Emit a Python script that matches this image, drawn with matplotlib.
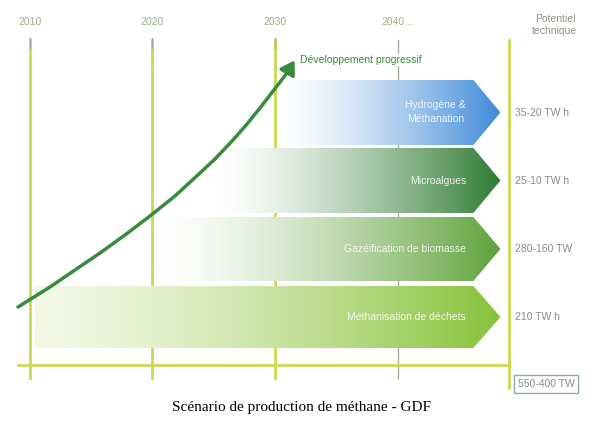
import numpy as np
import matplotlib.pyplot as plt
from matplotlib.patches import Polygon
from matplotlib.colors import LinearSegmentedColormap

# Années de la frise
annees = [2010, 2020, 2030, 2040]
labels_annees = ["2010", "2020", "2030", "2040..."]

# Filières : nom, année de départ, ligne (haut, bas en pixels), couleurs
filieres = ["Hydrogène &\nMéthanation", "Microalgues",
            "Gazéification de biomasse", "Méthanisation de déchets"]
debuts = [2030.2, 2025, 2020.5, 2010.4]
hauts = [80, 148, 217, 286]
bas = [145, 213, 281, 348]
couleurs_debut = ["#ffffff", "#ffffff", "#ffffff", "#f3f8e4"]
couleurs = ["#3f8bd8", "#2f7c33", "#5ea23a", "#86c23a"]
fin_rect = 2046.2
fin_pointe = 2048.4

# Potentiel technique
potentiels = ["35-20 TW h", "25-10 TW h", "280-160 TW", "210 TW h"]
total = "550-400 TW"

courbe_px = [18, 50, 100, 125, 150, 175, 200, 215, 233, 247, 260, 270, 277, 287]
courbe_y = [307, 287, 253, 235, 216, 196, 173, 159, 140, 124, 108, 95, 86, 73]
pointe_px, pointe_y = 296, 58

# conversion pixels -> année : 2010 à x=30, 12.25 px par an
px_an = 12.25
x0 = 2010 - 30 / px_an
x1 = 2010 + 573 / px_an
def an(px):
    return 2010 + (px - 30) / px_an

fig = plt.figure(figsize=(6.03, 4.21), dpi=100)
ax = fig.add_axes([0, 0, 1, 1])
ax.set_xlim(x0, x1)
ax.set_ylim(421, 0)
ax.axis("off")

jaune = "#cbd94f"
gris = "#a9ad9c"
x_droite = an(509)

# lignes verticales
for a in annees[:3]:
    ax.plot([a, a], [40, 378], color=jaune, lw=2, zorder=1)
    ax.plot([a, a], [38, 48], color=gris, lw=1, zorder=1)
ax.plot([2040, 2040], [40, 378], color=gris, lw=1, zorder=1)
ax.plot([x_droite, x_droite], [40, 388], color=jaune, lw=2, zorder=1)
# axe horizontal
ax.plot([an(18), x_droite], [365, 365], color=jaune, lw=2, zorder=1)

for a, l in zip(annees, labels_annees):
    ax.text(a, 22, l, ha="center", va="center", fontsize=7.5,
            color="#9fae86", family="Liberation Sans")
ax.text(an(555), 25, "Potentiel\ntechnique", ha="center", va="center",
        fontsize=7.5, color="#8e9486", family="Liberation Sans", linespacing=1.3)

# flèches en dégradé
for nom, d, h, b, c0, c in zip(filieres, debuts, hauts, bas, couleurs_debut, couleurs):
    m = (h + b) / 2
    poly = Polygon([[d, h], [fin_rect, h], [fin_pointe, m], [fin_rect, b], [d, b]],
                   closed=True, facecolor="none", edgecolor="none")
    ax.add_patch(poly)
    cmap = LinearSegmentedColormap.from_list("g", [c0, c])
    grad = np.linspace(0, 1, 256) ** 1.4
    im = ax.imshow(grad[None, :], cmap=cmap, aspect="auto",
                   extent=(d, fin_pointe, b, h), zorder=2, interpolation="bilinear")
    im.set_clip_path(poly)
    ax.text(an(466), m, nom, ha="right", va="center", fontsize=7.5, color="white",
            alpha=0.85, family="Liberation Sans", multialignment="center",
            linespacing=1.5, zorder=3)

for p, h, b in zip(potentiels, hauts, bas):
    ax.text(an(515), (h + b) / 2, p, ha="left", va="center", fontsize=7.5,
            color="#8a8a8a", family="Liberation Sans")
ax.text(an(518), 384, total, ha="left", va="center", fontsize=7.5, color="#8a8a8a",
        family="Liberation Sans",
        bbox=dict(boxstyle="square,pad=0.35", fc="white", ec="#8fae94", lw=1))

# courbe
vert = "#3a8a3e"
courbe_x = [an(p) for p in courbe_px]
ax.plot(courbe_x, courbe_y, color=vert, lw=2.5, zorder=4, solid_capstyle="round",
        solid_joinstyle="round")
ax.annotate("", xy=(an(pointe_px), pointe_y), xytext=(courbe_x[-1], courbe_y[-1]),
            arrowprops=dict(arrowstyle="-|>,head_length=0.8,head_width=0.5",
                            color=vert, lw=2.5), zorder=4)
ax.text(an(300), 60, "Développement progressif", ha="left", va="center",
        fontsize=7.5, color=vert, family="Liberation Sans", zorder=4,
        bbox=dict(boxstyle="square,pad=0.1", fc="white", ec="none"))

ax.text(an(301), 408, "Scénario de production de méthane - GDF", ha="center",
        va="center", fontsize=11, color="black", family="Liberation Serif")

fig.savefig("out.png", dpi=100)
